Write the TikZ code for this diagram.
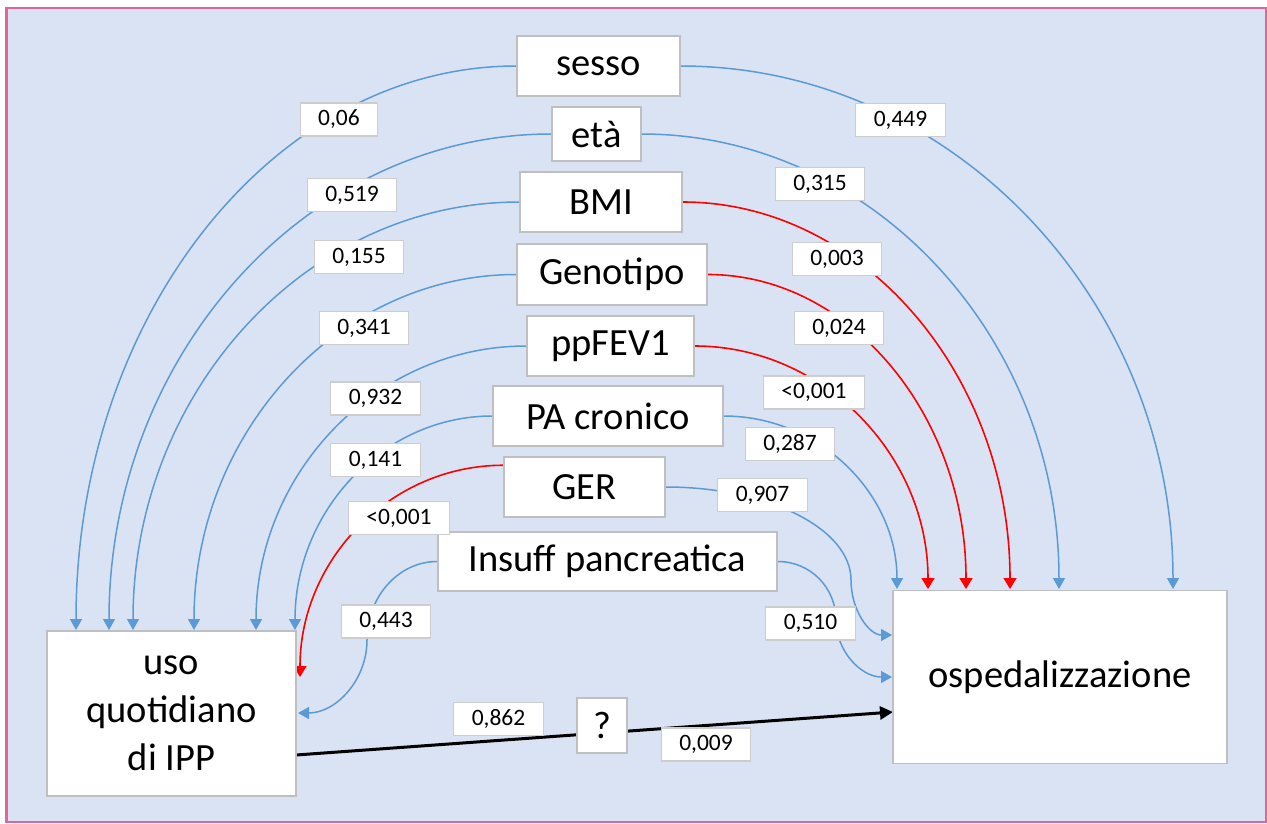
\documentclass[tikz,border=0pt]{standalone}
\usepackage{fontspec}
\setmainfont{Carlito}
\usetikzlibrary{arrows.meta,calc}
\definecolor{bgblue}{RGB}{218,227,243}
\definecolor{framepink}{RGB}{226,100,155}
\definecolor{lineblue}{RGB}{91,155,213}
\definecolor{boxgray}{RGB}{191,191,191}
\definecolor{lblgray}{RGB}{205,205,205}
\pgfdeclarelayer{back}
\pgfdeclarelayer{links}
\pgfsetlayers{back,links,main}
\begin{document}
\begin{tikzpicture}[x=1pt,y=-1pt,
  bigbox/.style={draw=boxgray,line width=1.5pt,fill=white,inner sep=0pt,font=\fontsize{38.5}{48}\selectfont},
  pval/.style={draw=lblgray,line width=1.2pt,fill=white,inner xsep=18pt,inner ysep=0pt,minimum height=33pt,font=\fontsize{23.5}{28}\selectfont},
  blueln/.style={draw=lineblue,line width=1.5pt,-{Triangle[width=12pt,length=11pt]}},
  redln/.style={draw=red,line width=1.6pt,-{Triangle[width=13pt,length=11pt]}},
  blackln/.style={draw=black,line width=3pt,-{Triangle[width=13pt,length=13pt]}}]
\useasboundingbox (0,0) rectangle (1267,823);
\begin{pgfonlayer}{back}
\fill[white] (0,0) rectangle (1267,823);
\draw[draw=framepink,fill=bgblue,line width=2.6pt] (6.3,8) rectangle (1266,822);
\end{pgfonlayer}

% main boxes
\node[bigbox,minimum width=163pt,minimum height=60pt] (sesso) at (598.5,66) {sesso};
\node[bigbox,minimum width=89pt,minimum height=54pt] (eta) at (596.5,134) {età};
\node[bigbox,minimum width=162pt,minimum height=60pt] (BMI) at (601,202) {BMI};
\node[bigbox,minimum width=190pt,minimum height=61pt] (geno) at (612,274.5) {Genotipo};
\node[bigbox,minimum width=167pt,minimum height=60pt] (fev) at (610.5,346) {ppFEV1};
\node[bigbox,minimum width=230pt,minimum height=60pt] (pa) at (608,416) {PA cronico};
\node[bigbox,minimum width=161pt,minimum height=60pt] (GER) at (584.5,487) {GER};
\node[bigbox,minimum width=339pt,minimum height=59pt] (ins) at (607.5,561.5) {Insuff pancreatica};
\node[bigbox,minimum width=249pt,minimum height=165pt,align=center] (uso) at (171.5,713.5) {uso\\quotidiano\\di IPP};
\node[bigbox,minimum width=334pt,minimum height=173pt] (osp) at (1060,677) {ospedalizzazione};
\node[bigbox,minimum width=50pt,minimum height=55pt] (q) at (602,725.5) {?};

% p-value labels
\node[pval] (l1) at (339,119.5) {0,06};
\node[pval] (l2) at (352,195) {0,519};
\node[pval] (l3) at (359,257) {0,155};
\node[pval] (l4) at (364,328) {0,341};
\node[pval] (l5) at (375.5,398.5) {0,932};
\node[pval] (l6) at (375.5,460) {0,141};
\node[pval] (l7) at (399,518) {<0,001};
\node[pval] (l8) at (386,621.5) {0,443};
\node[pval] (l9) at (498.5,719) {0,862};
\node[pval] (r1) at (900.5,120) {0,449};
\node[pval] (r2) at (820,184) {0,315};
\node[pval] (r3) at (837,259) {0,003};
\node[pval] (r4) at (839,328) {0,024};
\node[pval] (r5) at (814,392.5) {<0,001};
\node[pval] (r6) at (790,444) {0,287};
\node[pval] (r7) at (762.5,495) {0,907};
\node[pval] (r8) at (810.5,623.5) {0,510};
\node[pval] (r9) at (706,744.5) {0,009};

% end coordinates
\coordinate (u1) at (76,630);
\coordinate (u2) at (109,630);
\coordinate (u3) at (133,630);
\coordinate (u4) at (194,630);
\coordinate (u5) at (256,630);
\coordinate (u6) at (295,630);
\coordinate (u7) at (300,677);
\coordinate (u8) at (298,713);
\coordinate (gs) at ($(GER.north west)+(0,9)$);
\coordinate (w1) at (367,640);
\coordinate (o1) at (1173,589);
\coordinate (o2) at (1059,589);
\coordinate (o3) at (1010,589);
\coordinate (o4) at (966,589);
\coordinate (o5) at (928,589);
\coordinate (o6) at (897,589);
\coordinate (o7) at (892,635);
\coordinate (o8) at (892,677);
\coordinate (w2) at (851,580);
\coordinate (w3) at (836,620);
\coordinate (b1) at (296,755);
\coordinate (b2) at (893,712);

\begin{pgfonlayer}{links}
% left side
\draw[blueln] (sesso.west) .. controls +(-244,0) and +(0,-312) .. (u1);
\draw[blueln] (eta.west) .. controls +(-245,0) and +(0,-274) .. (u2);
\draw[blueln] (BMI.west) .. controls +(-214,0) and +(0,-237) .. (u3);
\draw[blueln] (geno.west) .. controls +(-178,0) and +(0,-197) .. (u4);
\draw[blueln] (fev.west) .. controls +(-150,0) and +(0,-157) .. (u5);
\draw[blueln] (pa.west) .. controls +(-109,0) and +(0,-119) .. (u6);
\draw[redln] (gs) .. controls +(-113,0) and +(0,-117) .. (u7);
\draw[blueln] (ins.west) .. controls +(-39,0) and +(0,-43) .. (w1) .. controls +(0,40) and +(38,0) .. (u8);
% right side
\draw[blueln] (sesso.east) .. controls +(272,0) and +(0,-288) .. (o1);
\draw[blueln] (eta.east) .. controls +(231,0) and +(0,-251) .. (o2);
\draw[redln] (BMI.east) .. controls +(181,0) and +(0,-213) .. (o3);
\draw[redln] (geno.east) .. controls +(143,0) and +(0,-173) .. (o4);
\draw[redln] (fev.east) .. controls +(129,0) and +(0,-133) .. (o5);
\draw[blueln] (pa.east) .. controls +(96,0) and +(0,-95) .. (o6);
\draw[blueln] (GER.east) .. controls +(103,0) and +(0,-51) .. (w2) .. controls +(0,30) and +(-23,0) .. (o7);
\draw[blueln] (ins.east) .. controls +(33,0) and +(0,-32) .. (w3) .. controls +(0,31) and +(-31,0) .. (o8);
% main effect
\draw[blackln] (b1) -- (b2);
\end{pgfonlayer}
\end{tikzpicture}
\end{document}
